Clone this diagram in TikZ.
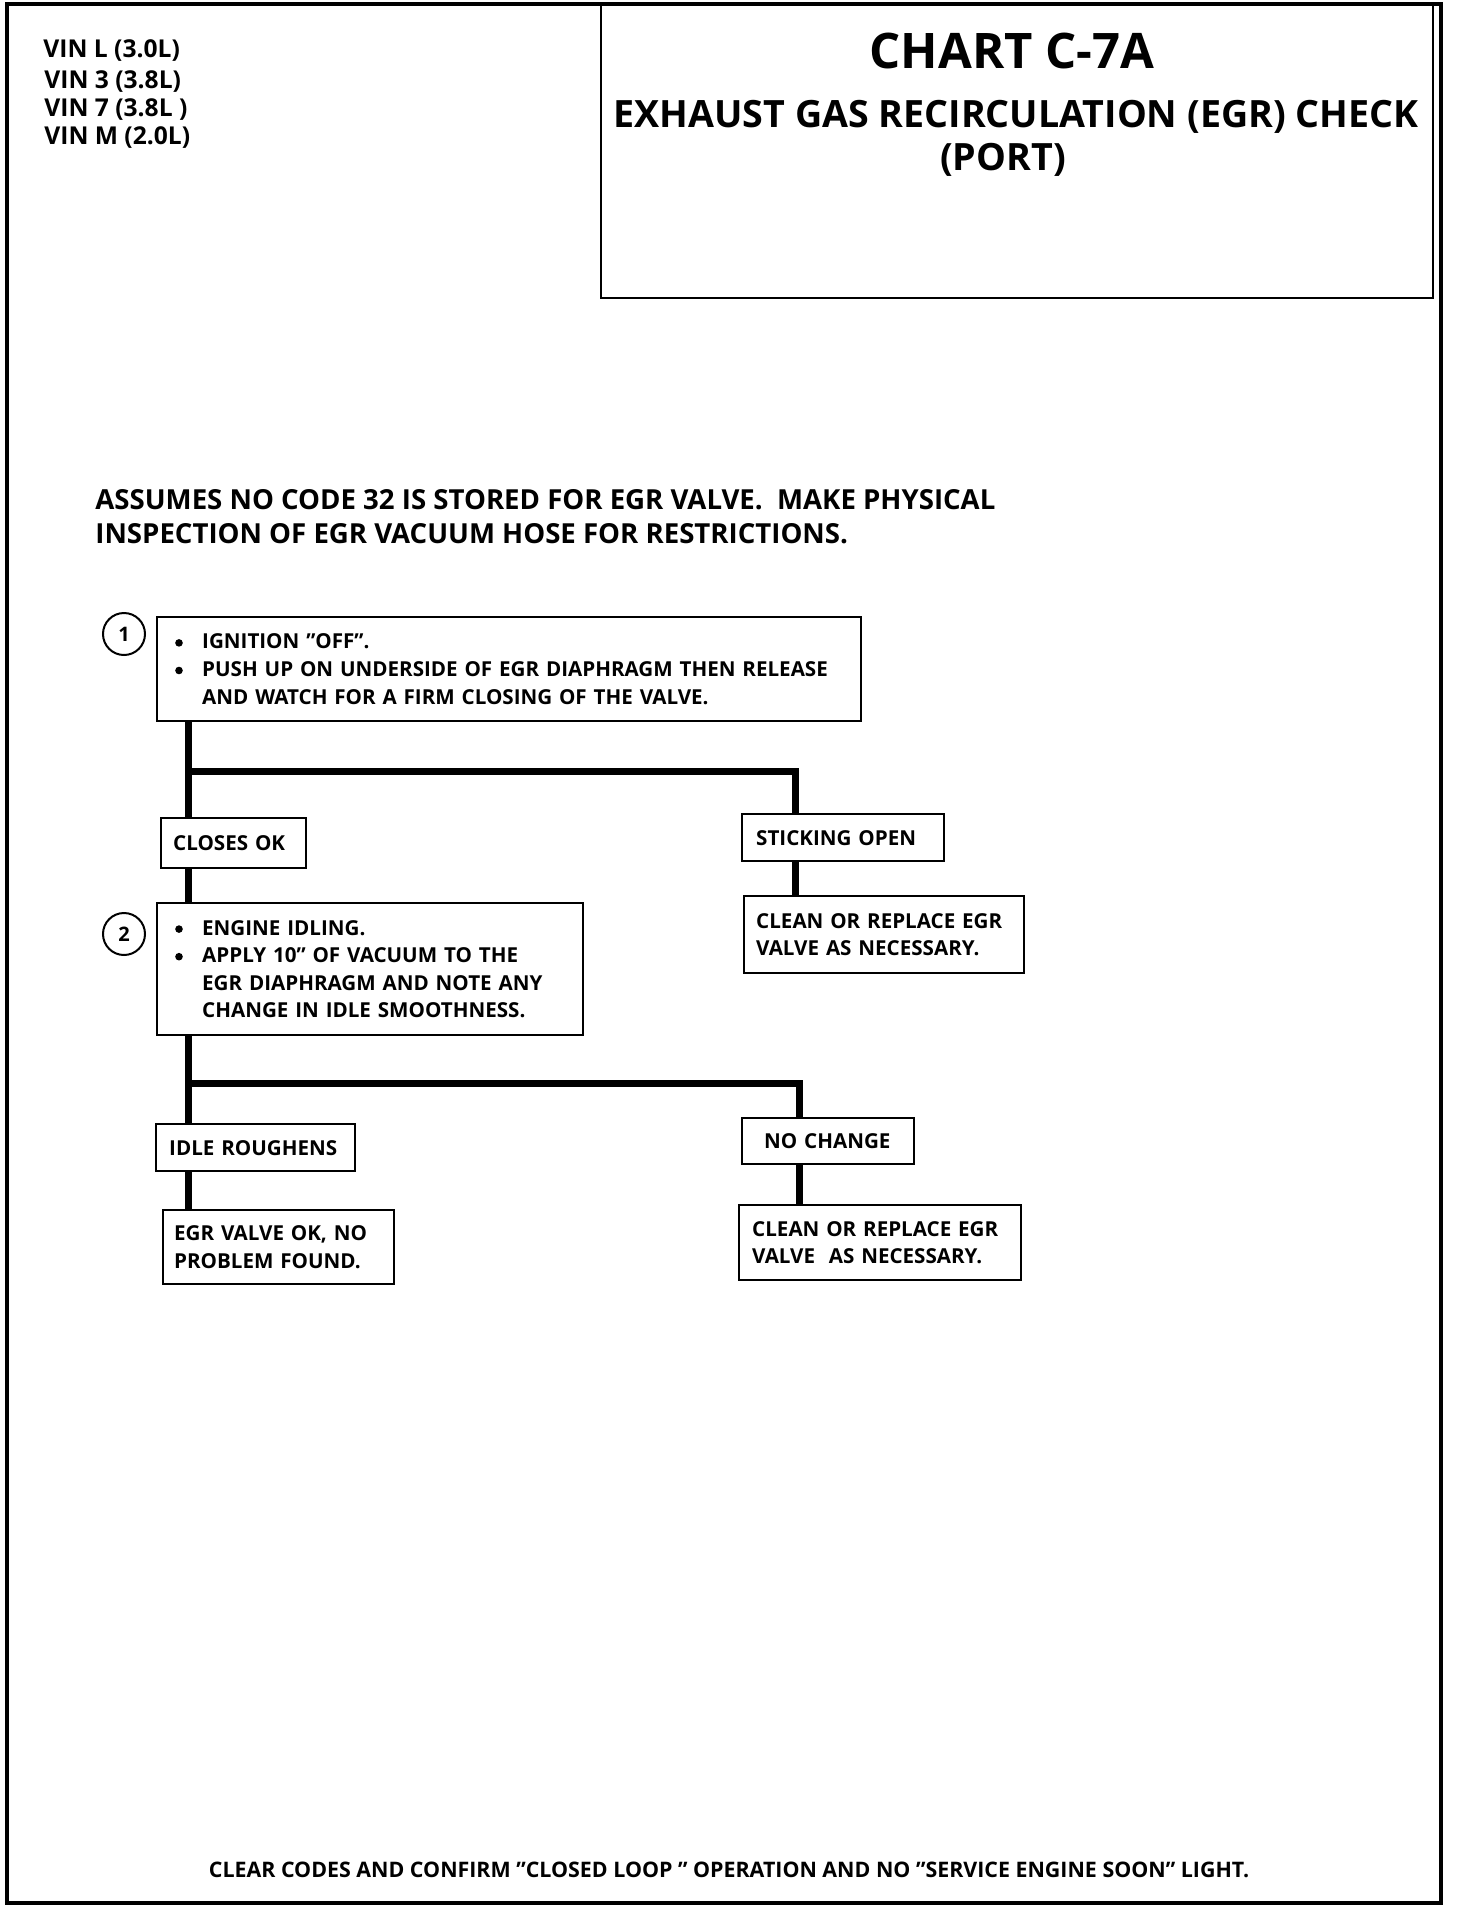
\documentclass[tikz,border=0pt]{standalone}
\usepackage{fontspec}
\setmainfont{Open Sans}
\begin{document}
\begin{tikzpicture}[x=0.5pt,y=-0.5pt]
\tikzset{
  box/.style={draw, line width=1.2pt, anchor=north west, align=left, inner ysep=0pt,
    font=\bfseries\fontsize{10.3}{13.8}\selectfont},
  conn/.style={line width=3.5pt, line join=miter},
  num/.style={circle, draw, line width=1pt, minimum size=21pt, inner sep=0pt,
    font=\bfseries\fontsize{10}{12}\selectfont},
  vin/.style={anchor=base west, inner sep=0pt, font=\bfseries\fontsize{12.3}{14}\selectfont},
  bigtitle/.style={anchor=base, inner sep=0pt, font=\bfseries\fontsize{24.5}{28}\selectfont},
  subtitle/.style={anchor=base, inner sep=0pt, font=\bfseries\fontsize{18.8}{22}\selectfont},
  note/.style={anchor=base west, inner sep=0pt, font=\bfseries\fontsize{13.8}{16}\selectfont},
  foot/.style={anchor=base, inner sep=0pt, font=\bfseries\fontsize{10.7}{13}\selectfont},
}
\newcommand{\bul}{\makebox[13.5pt][l]{\raisebox{0.2ex}{\tikz\fill (0,0) circle (1.9pt);}}}
\newcommand{\bulind}{\hspace*{13.5pt}}
\useasboundingbox (0,0) rectangle (1472,1912);
% frame and title box
\draw[line width=2.2pt] (7,4) rectangle (1441,1903);
\draw[line width=1.3pt] (601,4) -- (601,298) -- (1433,298) -- (1433,4);
% header texts
\node[vin] (v1) at (43,57) {VIN L (3.0L)};
\node[vin] (v2) at (44,88) {VIN 3 (3.8L)};
\node[vin] (v3) at (44,116) {VIN 7 (3.8L )};
\node[vin] (v4) at (44,144) {VIN M (2.0L)};
\node[bigtitle] (title) at (1012,68) {CHART C-7A};
\node[subtitle] (sub) at (1016,127) {EXHAUST GAS RECIRCULATION (EGR) CHECK};
\node[subtitle] (port) at (1003,170) {(PORT)};
% note
\node[note] (n1) at (95,509) {ASSUMES NO CODE 32 IS STORED FOR EGR VALVE.\ \ MAKE PHYSICAL};
\node[note] (n2) at (95,543) {INSPECTION OF EGR VACUUM HOSE FOR RESTRICTIONS.};
% step 1
\node[num] (c1) at (124,634) {1};
\node[box, inner xsep=9pt, text width=334pt, minimum height=52pt] (b1) at (156,616)
  {\bul IGNITION "OFF”.\\
   \bul PUSH UP ON UNDERSIDE OF EGR DIAPHRAGM THEN RELEASE\\
   \bulind AND WATCH FOR A FIRM CLOSING OF THE VALVE.};
\node[box, inner xsep=6pt, text width=60.5pt, minimum height=25pt] (closes) at (160,817) {CLOSES OK};
\node[box, inner xsep=7pt, text width=87pt, minimum height=23.5pt] (stick) at (741,813) {STICKING OPEN};
\node[box, inner xsep=6pt, text width=128pt, minimum height=38.5pt] (clean1) at (743,895)
  {CLEAN OR REPLACE EGR\\VALVE AS NECESSARY.};
% step 2
\node[num] (c2) at (124,934) {2};
\node[box, inner xsep=9pt, text width=195pt, minimum height=66pt] (b2) at (156,902)
  {\bul ENGINE IDLING.\\
   \bul APPLY 10” OF VACUUM TO THE\\
   \bulind EGR DIAPHRAGM AND NOTE ANY\\
   \bulind CHANGE IN IDLE SMOOTHNESS.};
\node[box, inner xsep=6.5pt, text width=86.5pt, minimum height=23.5pt] (idle) at (155,1123) {IDLE ROUGHENS};
\node[box, inner xsep=11pt, text width=64pt, minimum height=23pt] (noch) at (741,1117) {NO CHANGE};
\node[box, inner xsep=5.5pt, text width=104.5pt, minimum height=37pt] (egrok) at (162,1209)
  {EGR VALVE OK, NO\\PROBLEM FOUND.};
\node[box, inner xsep=6.5pt, text width=128pt, minimum height=37.5pt] (clean2) at (738,1204)
  {CLEAN OR REPLACE EGR\\VALVE\ \ AS NECESSARY.};
% connectors
\coordinate (t1) at (188,771);
\coordinate (r1) at (795,771);
\draw[conn] (t1 |- b1.south) -- (t1 |- closes.north);
\draw[conn] (t1) -- (r1) -- (r1 |- stick.north);
\draw[conn] (t1 |- closes.south) -- (t1 |- b2.north);
\draw[conn] (r1 |- stick.south) -- (r1 |- clean1.north);
\coordinate (t2) at (188,1083);
\coordinate (r2) at (799,1083);
\draw[conn] (t2 |- b2.south) -- (t2 |- idle.north);
\draw[conn] (t2) -- (r2) -- (r2 |- noch.north);
\draw[conn] (t2 |- idle.south) -- (t2 |- egrok.north);
\draw[conn] (r2 |- noch.south) -- (r2 |- clean2.north);
% footer
\node[foot] (ft) at (729,1877) {CLEAR CODES AND CONFIRM "CLOSED LOOP " OPERATION AND NO "SERVICE ENGINE SOON” LIGHT.};
\end{tikzpicture}
\end{document}
